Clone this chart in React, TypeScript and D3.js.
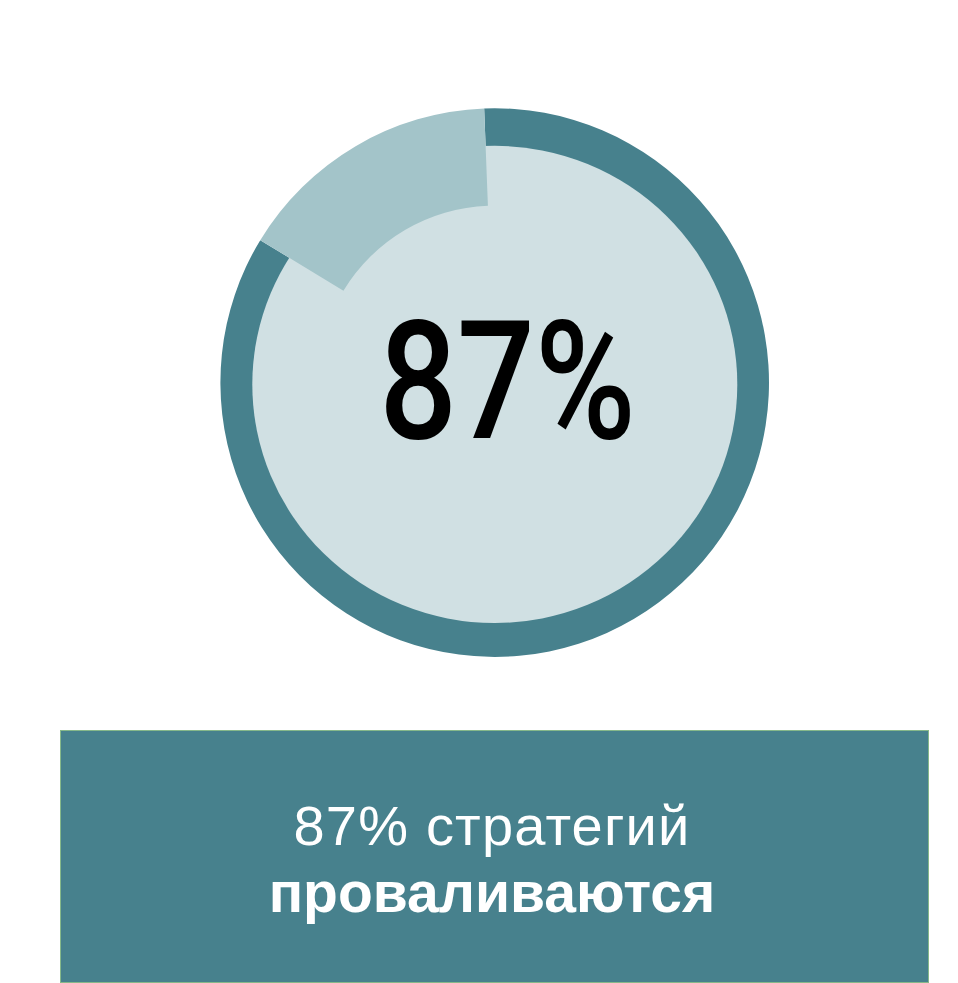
import * as d3 from 'd3'
import * as React from 'react'

//------------------------------data------------------------------
// shares of the circle as they are drawn in the picture
const segments = ['проваливаются', 'остальные']
const shares = [84.3, 15.7]
const colors = ['#47818D', '#A3C4C9']
const bigLabel = '87%'
const captionLines = ['87% стратегий', 'проваливаются']

const WIDTH = 958
const HEIGHT = 983
const CX = 494.7
const CY = 382.6
const R_OUT = 274.3
const R_WEDGE_IN = 177
const START = (-2.2 * Math.PI) / 180

//------------------------------Component------------------------------
const App: React.FunctionComponent = () => {
  const pie = d3
    .pie<number>()
    .sort(null)
    .startAngle(START)
    .endAngle(START + 2 * Math.PI)
  const arcs = pie(shares)
  const arcGen = d3.arc<d3.PieArcDatum<number>>().outerRadius(R_OUT)

  const ringPath = arcGen.innerRadius(0)(arcs[0]) || ''
  const wedgePath = arcGen.innerRadius(R_WEDGE_IN)(arcs[1]) || ''

  return (
    <svg
      width={WIDTH}
      height={HEIGHT}
      style={{ position: 'absolute', left: 0, top: 0, display: 'block' }}
    >
      <rect width={WIDTH} height={HEIGHT} fill="#ffffff" />
      <g transform={`translate(${CX},${CY})`}>
        <path d={ringPath} fill={colors[0]} data-name={segments[0]} />
      </g>
      {/* light inner disc */}
      <ellipse cx={494.8} cy={384.4} rx={242.5} ry={238.6} fill="#D0E0E3" />
      <g transform={`translate(${CX},${CY})`}>
        <path d={wedgePath} fill={colors[1]} data-name={segments[1]} />
      </g>
      <text
        transform="translate(507.5,438) scale(0.83,1)"
        textAnchor="middle"
        fontFamily="Roboto"
        fontWeight={500}
        fontSize={165}
        fill="#000000"
      >
        {bigLabel}
      </text>

      {/* caption box */}
      <rect
        x={60.5}
        y={730.5}
        width={868}
        height={252}
        fill="#47818D"
        stroke="#86B88A"
        strokeWidth={1}
      />
      <text
        x={492}
        y={845}
        textAnchor="middle"
        fontFamily="'Liberation Sans', Arial, sans-serif"
        fontSize={56}
        letterSpacing={1.2}
        fill="#ffffff"
      >
        {captionLines[0]}
      </text>
      <text
        x={492}
        y={912}
        textAnchor="middle"
        fontFamily="'Liberation Sans', Arial, sans-serif"
        fontWeight={700}
        fontSize={57}
        fill="#ffffff"
      >
        {captionLines[1]}
      </text>
    </svg>
  )
}

export default App
